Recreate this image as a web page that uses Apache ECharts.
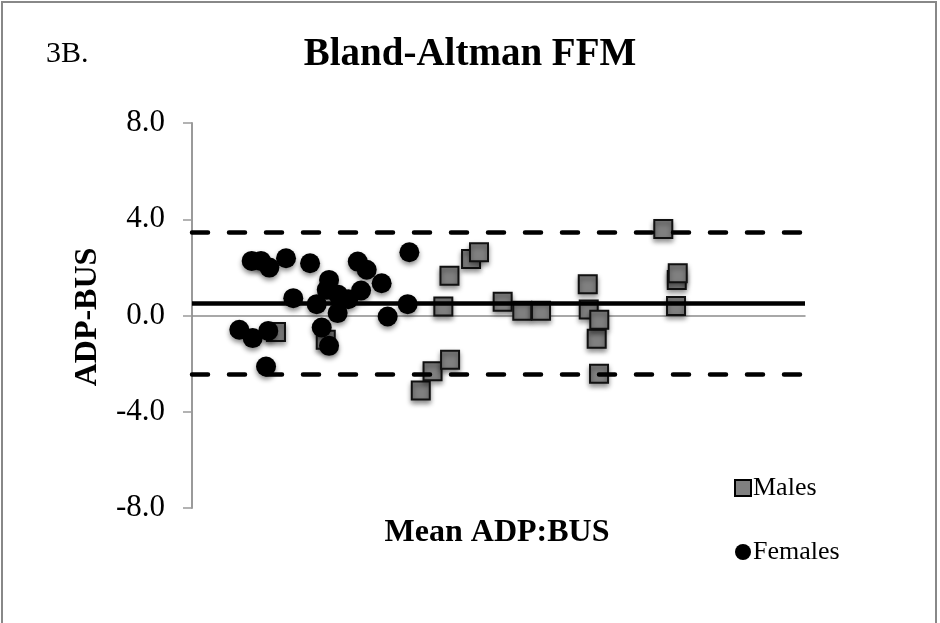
<!DOCTYPE html>
<html>
<head>
<meta charset="utf-8">
<script src="https://cdn.jsdelivr.net/npm/echarts@6/dist/echarts.min.js"></script>
<style>
  html, body { margin: 0; padding: 0; background: #fff; }
  #main { width: 940px; height: 623px; }
</style>
</head>
<body>
<div id="main"></div>
<script>
// mean of ADP and BUS (kg), difference ADP-BUS (kg)
var malesMean = [36.85, 40.91, 48.66, 49.62, 50.50, 51.00, 51.05, 52.76, 53.41, 55.34, 56.94,
  58.47, 62.28, 62.36, 63.01, 63.20, 63.22, 68.44, 69.54, 69.62, 69.48];
var malesDiff = [-0.69, -1.01, -3.12, -2.32, 0.37, 1.65, -1.84, 2.35, 2.63, 0.57, 0.20,
  0.20, 1.30, 0.25, -0.97, -2.42, -0.18, 3.60, 1.48, 1.76, 0.40];

var femalesMean = [33.86, 34.95, 34.87, 35.63, 36.31, 36.22, 36.04, 37.67, 38.26, 39.63, 40.17,
  40.58, 40.99, 41.18, 41.18, 41.88, 41.93, 42.75, 43.52, 43.79, 44.25, 45.47, 45.96, 47.59, 47.73];
var femalesDiff = [-0.59, -0.94, 2.27, 2.27, 1.99, -0.64, -2.12, 2.38, 0.72, 2.17, 0.47,
  -0.50, 1.07, 1.48, -1.26, 0.10, 0.86, 0.68, 2.24, 1.04, 1.90, 1.34, -0.04, 0.47, 2.63];

// bias and limits of agreement
var meanDiff = 0.51;
var upperLimit = 3.46;
var lowerLimit = -2.43;

var yTicks = [-8, -4, 0, 4, 8];

function pairs(xs, ys) {
  return xs.map(function (x, i) { return [x, ys[i]]; });
}

var serif = 'Liberation Serif';
var chart = echarts.init(document.getElementById('main'), null, { renderer: 'canvas' });

var option = {
  backgroundColor: '#fff',
  animation: false,
  title: {
    text: 'Bland-Altman FFM',
    left: 'center',
    top: 30,
    textStyle: { fontFamily: serif, fontWeight: 'bold', fontSize: 39, color: '#000' }
  },
  legend: {
    orient: 'vertical',
    left: 729,
    top: 470,
    itemWidth: 16,
    itemHeight: 16,
    itemGap: 38,
    data: [
      { name: 'Males', icon: 'rect', itemStyle: { color: '#808080', borderColor: '#000', borderWidth: 2, shadowBlur: 0, shadowOffsetY: 0 } },
      { name: 'Females', icon: 'circle', itemStyle: { color: '#000', shadowBlur: 0, shadowOffsetY: 0 } }
    ],
    textStyle: { fontFamily: serif, fontSize: 26, color: '#000', lineHeight: 26, padding: [0, 0, 0, -3] }
  },
  grid: { left: 192, right: 135, top: 123, bottom: 115 },
  xAxis: {
    type: 'value',
    min: 30,
    max: 80,
    axisLine: { show: true, onZero: true, lineStyle: { color: '#8c8c8c', width: 1.5 } },
    axisTick: { show: false },
    axisLabel: { show: false },
    splitLine: { show: false }
  },
  yAxis: {
    type: 'value',
    min: -8,
    max: 8,
    interval: 4,
    axisLine: { show: true, lineStyle: { color: '#9a9a9a', width: 2 } },
    axisTick: { show: true, length: 9, lineStyle: { color: '#9a9a9a', width: 1.5 } },
    axisLabel: {
      fontFamily: serif, fontSize: 31, color: '#000', margin: 27,
      formatter: function (v) { return yTicks.indexOf(v) >= 0 ? v.toFixed(1) : ''; }
    },
    splitLine: { show: false }
  },
  graphic: [
    { type: 'rect', shape: { x: 2, y: 2, width: 934, height: 700 }, style: { fill: 'none', stroke: '#888', lineWidth: 2 }, silent: true },
    { type: 'text', x: 46, y: 54, style: { text: '3B.', font: '30px "Liberation Serif"', fill: '#000', textVerticalAlign: 'middle' } },
    { type: 'text', x: 88, y: 317, rotation: Math.PI / 2,
      style: { text: 'ADP-BUS', font: 'bold 32px "Liberation Serif"', fill: '#000', textAlign: 'center', textVerticalAlign: 'middle' } },
    { type: 'text', x: 497, y: 533,
      style: { text: 'Mean ADP:BUS', font: 'bold 32px "Liberation Serif"', fill: '#000', textAlign: 'center', textVerticalAlign: 'middle' } }
  ],
  series: [
    {
      name: 'Limits',
      type: 'line',
      data: [],
      z: 1,
      markLine: {
        silent: true,
        symbol: 'none',
        label: { show: false },
        data: [
          { yAxis: upperLimit, lineStyle: { color: '#000', width: 4.5, type: [16, 21], cap: 'round' } },
          { yAxis: meanDiff, lineStyle: { color: '#000', width: 4.5, type: 'solid' } },
          { yAxis: lowerLimit, lineStyle: { color: '#000', width: 4.5, type: [16, 21], cap: 'round' } }
        ]
      }
    },
    {
      name: 'Males',
      type: 'scatter',
      symbol: 'rect',
      symbolSize: 18,
      z: 3,
      itemStyle: {
        color: '#808080', borderColor: '#111', borderWidth: 2, opacity: 1,
        shadowBlur: 5, shadowOffsetY: 3, shadowColor: 'rgba(0,0,0,0.45)'
      },
      data: pairs(malesMean, malesDiff)
    },
    {
      name: 'Females',
      type: 'scatter',
      symbol: 'circle',
      symbolSize: 20,
      z: 4,
      itemStyle: {
        color: '#000', opacity: 1,
        shadowBlur: 5, shadowOffsetY: 3, shadowColor: 'rgba(0,0,0,0.45)'
      },
      data: pairs(femalesMean, femalesDiff)
    }
  ]
};

chart.setOption(option);
</script>
</body>
</html>
